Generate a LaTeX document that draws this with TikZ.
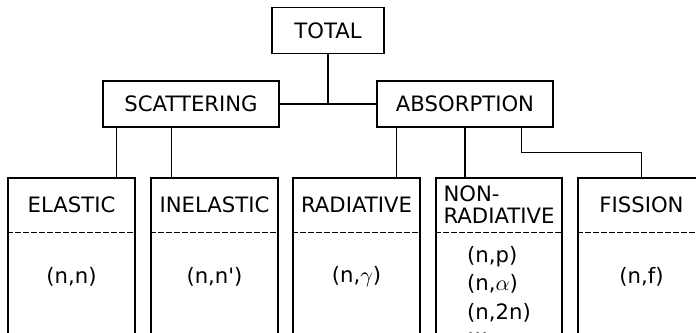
\documentclass[tikz,border=0pt]{standalone}
\usepackage{fontspec}
\setmainfont{DejaVu Sans}
\usetikzlibrary{calc}
\begin{document}
\begin{tikzpicture}[x=0.5pt, y=-0.5pt, line width=0.75pt,
  every node/.style={font=\fontsize{10.6}{11}\selectfont},
  head/.style={draw, minimum height=23pt, inner sep=0pt},
  leaf/.style={draw, anchor=north, minimum width=63.5pt, minimum height=95pt, inner sep=0pt},
  leaftitle/.style={anchor=north, minimum width=63.5pt, minimum height=27pt, inner sep=0pt, align=left},
  cut/.style={dash pattern=on 3pt off 1pt}]
  \useasboundingbox (0,0) rectangle (696,332);
  \clip (0,0) rectangle (696,332);
  \node[head, minimum width=56pt] (total) at (328,30.5) {TOTAL};
  \node[head, minimum width=88pt] (scat) at (191,104) {SCATTERING};
  \node[head, minimum width=88pt] (abs) at (465,104) {ABSORPTION};
  \foreach \nm/\cx/\title/\body in {el/71.5/ELASTIC/{(n,n)},
      inel/214.5/INELASTIC/{(n,n\textquotesingle)},
      rad/356.5/RADIATIVE/{(n,$\gamma$)},
      fis/641.5/FISSION/{(n,f)}} {
    \node[leaf] (\nm) at (\cx,177) {};
    \node[leaftitle] (\nm-t) at (\nm.north) {\title};
    \draw[cut] (\nm-t.south west) -- (\nm-t.south east);
    \node (\nm-b) at ($(\nm-t.south)+(0,44)$) {\body};
  }
  \node[leaf, minimum width=63pt] (nonrad) at (499,177) {};
  \node[leaftitle, minimum width=63pt] (nonrad-t) at (nonrad.north) {NON-\\RADIATIVE};
  \draw[cut] (nonrad-t.south west) -- (nonrad-t.south east);
  \node[anchor=north, align=left, inner sep=0pt, font=\fontsize{10.6}{14.25}\selectfont]
    (nonrad-b) at ($(nonrad-t.south)+(0,13)$) {(n,p)\\(n,$\alpha$)\\(n,2n)\\[-6pt]\dots};
  \coordinate (s1) at ($(scat.south west)+(14,0)$);
  \coordinate (s2) at ($(scat.south west)+(69,0)$);
  \coordinate (a1) at ($(abs.south west)+(20,0)$);
  \coordinate (a3) at ($(abs.south west)+(145,0)$);
  \draw (total) -- (total |- scat.east);
  \draw (scat) -- (abs);
  \draw (s1) -- (s1 |- el.north);
  \draw (s2) -- (s2 |- inel.north);
  \draw (a1) -- (a1 |- rad.north);
  \draw (abs.south) -- (abs.south |- nonrad.north);
  \draw (a3) -- ($(a3)!0.5!(a3 |- fis.north)$) -| (fis.north);
\end{tikzpicture}
\end{document}
